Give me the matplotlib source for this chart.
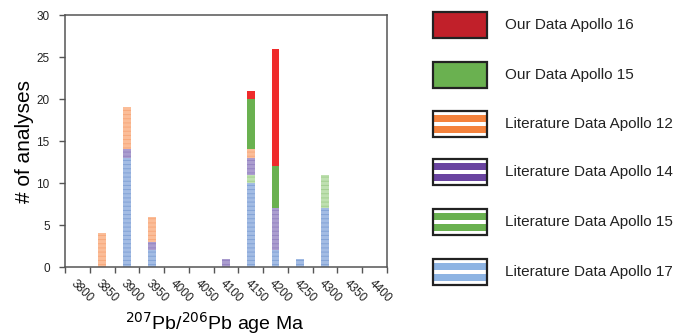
import matplotlib
matplotlib.use("Agg")
import matplotlib.pyplot as plt
import matplotlib.patches as patches
import numpy as np

plt.rcParams['font.family'] = ['Liberation Sans', 'DejaVu Sans']
plt.rcParams['hatch.linewidth'] = 0.7

ages = [3800, 3850, 3900, 3950, 4000, 4050, 4100, 4150, 4200, 4250, 4300, 4350, 4400]

# stacked from bottom to top
lit_a17 = [0, 0, 13, 2, 0, 0, 0, 10, 2, 1, 7, 0, 0]
lit_a15 = [0, 0, 0, 0, 0, 0, 0, 1, 0, 0, 4, 0, 0]
lit_a14 = [0, 0, 1, 1, 0, 0, 1, 2, 5, 0, 0, 0, 0]
lit_a12 = [0, 4, 5, 3, 0, 0, 0, 1, 0, 0, 0, 0, 0]
our_a15 = [0, 0, 0, 0, 0, 0, 0, 6, 5, 0, 0, 0, 0]
our_a16 = [0, 0, 0, 0, 0, 0, 0, 1, 14, 0, 0, 0, 0]

series = [lit_a17, lit_a15, lit_a14, lit_a12, our_a15, our_a16]
# (face, streak, hatch) for bars
bar_styles = [
  ('#a3bce4', '#83a3d6', '----'),
  ('#bfe0b1', '#a3cf90', '----'),
  ('#ab9dcf', '#9584c2', '----'),
  ('#fbbd98', '#f7a87c', '----'),
  ('#6ab150', '#6ab150', None),
  ('#ef2b2b', '#ef2b2b', None)]

legend_labels = ['Our Data Apollo 16', 'Our Data Apollo 15', 'Literature Data Apollo 12',
                 'Literature Data Apollo 14', 'Literature Data Apollo 15', 'Literature Data Apollo 17']
legend_colors = ['#c1202a', '#6ab150', '#f4823c', '#6a44a0', '#6ab150', '#8eb4e3']
legend_striped = [False, False, True, True, True, True]

W, H = 688, 335
fig = plt.figure(figsize=(W / 100, H / 100), dpi=100)
ax = fig.add_axes([65 / W, 1 - 267 / H, (387 - 65) / W, (267 - 15) / H])

x = np.arange(len(ages))
bottom = np.zeros(len(ages))
for vals, (fc, sc, hatch) in zip(series, bar_styles):
  vals = np.array(vals, dtype=float)
  ax.bar(x, vals, 0.31, bottom=bottom, color=fc, edgecolor=sc, linewidth=0, hatch=hatch)
  bottom += vals

ax.set_xlim(-0.5, len(ages) - 0.5)
ax.set_ylim(0, 30)
ax.set_yticks(range(0, 31, 5))
ax.set_xticks(x)
ax.set_xticklabels([str(a) for a in ages], rotation=-45, ha='left', va='top',
                   rotation_mode='anchor', fontsize=8.5, color='#222222')
ax.set_xticks(np.arange(-0.5, len(ages)), minor=True)
ax.tick_params(axis='x', which='major', length=0, pad=8)
ax.tick_params(axis='x', which='minor', length=4, width=1, color='#555555')
ax.tick_params(axis='y', length=4, width=1, color='#555555', labelsize=8.5, labelcolor='#222222', pad=7)
for s in ax.spines.values():
  s.set_color('#555555')
  s.set_linewidth(1.1)

fig.text(25 / W, 1 - 142 / H, '# of analyses', rotation=90, fontsize=15, ha='center', va='center')
fig.text(215 / W, 1 - 330 / H, r'$^{207}$Pb/$^{206}$Pb age Ma', fontsize=14, ha='center', va='baseline',
         math_fontfamily='dejavusans')

# legend drawn in pixel coordinates
lax = fig.add_axes([0, 0, 1, 1])
lax.set_xlim(0, W)
lax.set_ylim(H, 0)
lax.axis('off')
ys = [25, 75, 124, 172, 222, 272]
for y, lab, col, striped in zip(ys, legend_labels, legend_colors, legend_striped):
  top = y - 13
  if striped:
    lax.add_patch(patches.Rectangle((433, top), 54, 26, facecolor='white', edgecolor='none'))
    for b0, bh in [(4, 7), (15, 7)]:
      lax.add_patch(patches.Rectangle((433, top + b0), 54, bh, facecolor=col, edgecolor='none'))
  else:
    lax.add_patch(patches.Rectangle((433, top), 54, 26, facecolor=col, edgecolor='none'))
  lax.add_patch(patches.Rectangle((433, top), 54, 26, fill=False, edgecolor='#222222', linewidth=1.6))
  lax.text(505, y, lab, fontsize=11, ha='left', va='center', color='#222222')

fig.savefig('out.png', dpi=100)
